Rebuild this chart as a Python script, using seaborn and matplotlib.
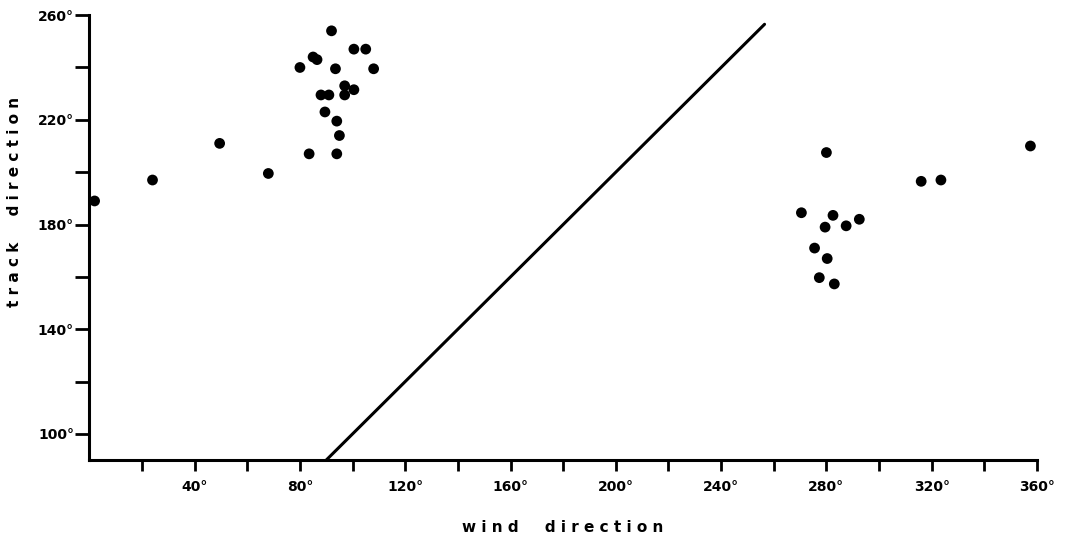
import matplotlib
matplotlib.use("Agg")
import matplotlib.pyplot as plt
import seaborn as sns
import pandas as pd

# ================================================================
# Observations read off the picture (degrees).
wind = [2, 24, 49.5, 68,
        80, 83.5, 85, 86.5, 88, 89.5, 91, 92, 93.5, 94, 94, 95, 97, 97,
        100.5, 100.5, 105, 108,
        270.5, 275.5, 277.3, 279.5, 280, 280.3, 282.5, 283, 287.5, 292.5,
        316, 323.5, 357.5]
track = [189, 197, 211, 199.5,
         240, 207, 244, 243, 229.5, 223, 229.5, 254, 239.5, 219.5, 207, 214, 233, 229.5,
         247, 231.5, 247, 239.5,
         184.5, 171, 159.7, 179, 207.5, 167, 183.5, 157.3, 179.5, 182,
         196.5, 197, 210]

line_x = [90, 256.5]
line_y = [90, 256.5]

x_ticks = list(range(20, 361, 20))
y_ticks = list(range(100, 261, 20))
# ================================================================

sns.set_theme(style="white")
plt.rcParams["font.family"] = ["DejaVu Sans"]

df = pd.DataFrame({"wind": wind, "track": track})
df_line = pd.DataFrame({"x": line_x, "y": line_y})

fig = plt.figure(figsize=(10.66, 5.4), dpi=100)
ax = fig.add_axes([0.0838, 0.148, 0.889, 0.824])

sns.lineplot(ax=ax, data=df_line, x="x", y="y", color="black", linewidth=2.2)
sns.scatterplot(ax=ax, data=df, x="wind", y="track", color="black", s=60,
                edgecolor="none", clip_on=False, zorder=3)

ax.set_xlim(0, 360)
ax.set_ylim(90, 260)

ax.set_xticks(x_ticks)
ax.set_xticklabels([f"{t}\u00b0" if t % 40 == 0 else "" for t in x_ticks])
ax.set_yticks(y_ticks)
ax.set_yticklabels([f"{t}\u00b0" if (t - 100) % 40 == 0 else "" for t in y_ticks])

for s in ["top", "right"]:
    ax.spines[s].set_visible(False)
for s in ["left", "bottom"]:
    ax.spines[s].set_linewidth(2.2)
    ax.spines[s].set_color("black")

ax.tick_params(axis="x", direction="out", length=8, width=2, color="black",
               labelsize=10, labelcolor="black", pad=6, bottom=True)
ax.tick_params(axis="y", direction="out", length=10, width=2, color="black",
               labelsize=10, labelcolor="black", pad=1, left=True)
for lab in ax.get_xticklabels() + ax.get_yticklabels():
    lab.set_fontweight("bold")

ax.set_xlabel("w i n d     d i r e c t i o n", fontsize=11, fontweight="bold", color="black")
ax.set_ylabel("t r a c k     d i r e c t i o n", fontsize=11, fontweight="bold", color="black")
ax.xaxis.set_label_coords(0.5, -0.135)
ax.yaxis.set_label_coords(-0.071, 0.58)
ax.grid(False)

plt.savefig("out.png", dpi=100)
